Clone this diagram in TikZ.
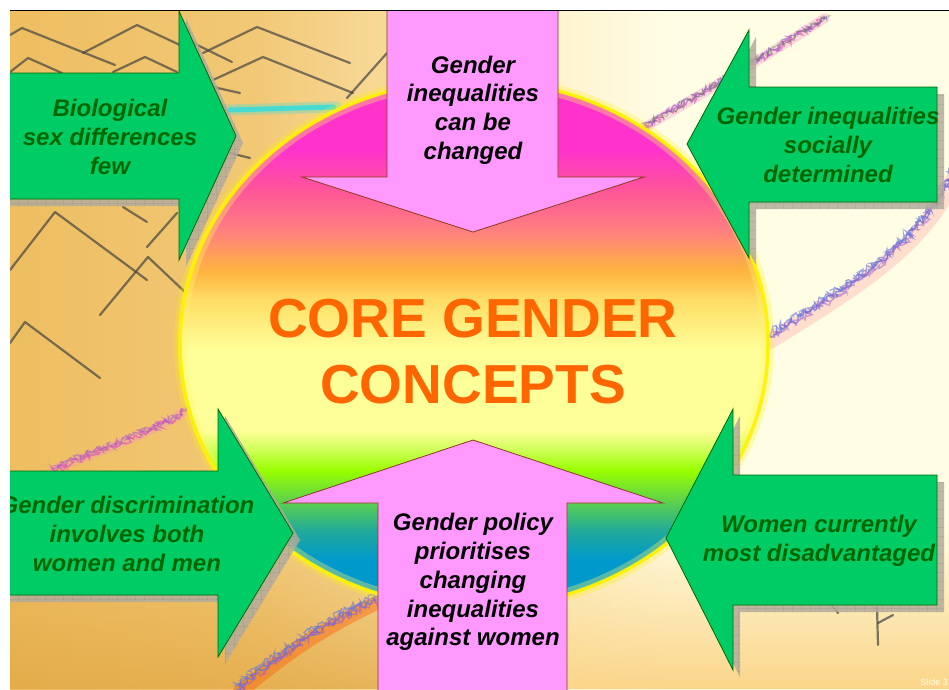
\documentclass[tikz,border=0pt]{standalone}
\usepackage{fontspec}
\setmainfont{Liberation Sans}
\usetikzlibrary{decorations.pathmorphing,fadings,patterns}

\definecolor{bgA}{HTML}{EEBE60}
\definecolor{bgB}{HTML}{F2C876}
\definecolor{bgC}{HTML}{F8DC9C}
\definecolor{bgD}{HTML}{FEF3CF}
\definecolor{bgE}{HTML}{FFFDE4}
\definecolor{bgBR}{HTML}{FBD68A}
\definecolor{bgDark}{HTML}{E0A540}
\definecolor{arrgreen}{HTML}{00CC66}
\definecolor{txtgreen}{HTML}{006600}
\definecolor{arrpink}{HTML}{FF99FF}
\definecolor{pinkedge}{HTML}{8B3A1A}
\definecolor{titleor}{HTML}{FF6600}
\definecolor{shadowgray}{HTML}{B4AC9C}
\definecolor{sketchgray}{HTML}{454545}
\definecolor{cblue}{HTML}{0099CC}
\definecolor{cteal}{HTML}{22AA99}
\definecolor{cgreenB}{HTML}{55CC55}
\definecolor{cgreen}{HTML}{99FF00}
\definecolor{cyg}{HTML}{CCFF55}
\definecolor{cpale}{HTML}{FFFF99}
\definecolor{clo}{HTML}{FFDD66}
\definecolor{corange}{HTML}{FFB340}
\definecolor{csalmon}{HTML}{FF8080}
\definecolor{cpink}{HTML}{FF5599}
\definecolor{cmag}{HTML}{FF33CC}
\definecolor{crayblue}{HTML}{6677DD}
\definecolor{crayviolet}{HTML}{9955CC}
\definecolor{craypink}{HTML}{E060B0}
\definecolor{streak}{HTML}{33DDDD}

\pgfdeclareverticalshading{coreshade}{100bp}{color(0bp)=(cblue); color(25bp)=(cblue); color(29.5bp)=(cblue); color(32.3bp)=(cteal); color(34.7bp)=(cgreenB); color(38bp)=(cgreen); color(39.9bp)=(cyg); color(41.8bp)=(cpale); color(49.4bp)=(cpale); color(54.2bp)=(clo); color(57bp)=(corange); color(60.8bp)=(csalmon); color(64.6bp)=(cpink); color(68.4bp)=(cmag); color(75bp)=(cmag); color(100bp)=(cmag)}

\pgfdeclarehorizontalshading{bgshade}{100bp}{color(0bp)=(bgA); color(25bp)=(bgA); color(38bp)=(bgB); color(46bp)=(bgC); color(54bp)=(bgD); color(60bp)=(bgE); color(100bp)=(bgE)}

\pgfdeclarepatternformonly{shadowgrid}{\pgfpointorigin}{\pgfqpoint{9pt}{9pt}}{\pgfqpoint{9pt}{9pt}}{%
  \pgfsetlinewidth{0.5pt}%
  \pgfpathmoveto{\pgfqpoint{0pt}{0pt}}\pgfpathlineto{\pgfqpoint{9pt}{0pt}}%
  \pgfpathmoveto{\pgfqpoint{0pt}{0pt}}\pgfpathlineto{\pgfqpoint{0pt}{9pt}}%
  \pgfusepath{stroke}}

\def\arrTL{(0,73) -- (179,73) -- (179,11) -- (236,136) -- (179,260) -- (179,199) -- (0,199) -- cycle}
\def\arrTR{(937,87) -- (749,87) -- (749,30) -- (687,144) -- (749,258) -- (749,202) -- (937,202) -- cycle}
\def\arrBL{(0,471) -- (218,471) -- (218,409) -- (293,533) -- (218,657) -- (218,595) -- (0,595) -- cycle}
\def\arrBR{(937,475) -- (733,475) -- (733,409) -- (666,538) -- (733,670) -- (733,605) -- (937,605) -- cycle}

\def\bandTR{(640,130) .. controls (700,95) and (760,60) .. (825,18)}
\def\bandR{(767,337) .. controls (850,285) and (920,245) .. (952,172)}
\def\bandBL{(53,470) .. controls (100,450) and (150,435) .. (187,410)}
\def\bandB{(236,690) .. controls (288,646) and (328,621) .. (378,598)}

\tikzset{
  gfill/.style={fill=arrgreen, draw=txtgreen, line width=0.8pt, line join=miter},
  pfill/.style={fill=arrpink, draw=pinkedge, line width=0.8pt, line join=miter},
  shadowfill/.style={fill=shadowgray, fill opacity=0.85},
  shadowgridstyle/.style={pattern=shadowgrid, pattern color=gray!80!black},
  sketch/.style={draw=sketchgray, line width=2.2pt, draw opacity=0.7, line cap=round, line join=round},
  crayon/.style={decorate, decoration={random steps, segment length=1.5pt, amplitude=3.5pt}, line width=1.3pt},
  halo/.style={line width=14pt, draw opacity=0.3, line cap=round},
  gtext/.style={text=txtgreen, font=\fontsize{24}{28.8}\selectfont\bfseries\itshape, align=center, inner sep=0pt},
  ptext/.style={text=black, font=\fontsize{24}{28.8}\selectfont\bfseries\itshape, align=center, inner sep=0pt},
  titletext/.style={text=titleor, font=\fontsize{55}{66}\selectfont\bfseries, align=center, inner sep=0pt},
}

\pgfmathsetseed{1234}

\begin{document}
\begin{tikzpicture}[x=1pt, y=-1pt]
\useasboundingbox (0,0) rectangle (949,689);
\fill[white] (0,0) rectangle (949,689);

\begin{scope}
\clip (10,11) rectangle (949,689);
% background photo
\shade[shading=bgshade] (10,11) rectangle (949,689);
\fill[bgBR, path fading=north] (560,520) rectangle (949,689);
\fill[bgDark, path fading=north, fill opacity=0.7] (10,540) rectangle (420,689);

% sketch lines
\draw[sketch] (10,35) -- (22,28) -- (115,65);
\draw[sketch] (83,53) -- (137,25) -- (180,45);
\draw[sketch] (10,72) -- (28,58) -- (62,73);
\draw[sketch] (113,72) -- (145,57) -- (177,72);
\draw[sketch] (203,53) -- (257,27) -- (350,63);
\draw[sketch] (187,40) -- (232,62);
\draw[sketch] (213,80) -- (263,57) -- (353,93);
\draw[sketch] (213,87) -- (240,93);
\draw[sketch] (347,98) -- (387,53);
\draw[sketch] (230,153) -- (250,158);
\draw[sketch] (10,270) -- (55,212) -- (147,280);
\draw[sketch] (123,207) -- (147,222);
\draw[sketch] (147,247) -- (177,213);
\draw[sketch] (100,315) -- (148,257) -- (185,292);
\draw[sketch] (10,343) -- (25,322) -- (100,378);
\draw[sketch] (830,603) -- (838,613);
\draw[sketch] (877,607) -- (878,645);
\draw[sketch] (878,623) -- (893,615);

% cyan streak
\draw[streak, line width=11pt, draw opacity=0.3, line cap=round] (227,110) -- (337,107);
\draw[streak, line width=5pt, draw opacity=0.85, line cap=round] (230,110) -- (334,107);

% crayon bands
\draw[halo, draw=magenta!45!white, line width=10pt] \bandTR;
\draw[crayon, draw=craypink, draw opacity=0.7] \bandTR;
\draw[crayon, draw=crayviolet, draw opacity=0.6, shift={(1,-2)}] \bandTR;
\draw[crayon, draw=green!50!black, draw opacity=0.3, line width=0.8pt, shift={(3,-3)}] \bandTR;

\draw[halo, draw=red!40!white, line width=16pt] ([shift={(3,4)}]767,337) .. controls ([shift={(3,4)}]850,285) and ([shift={(3,4)}]920,245) .. ([shift={(3,4)}]952,172);
\draw[crayon, draw=crayblue, draw opacity=0.75] \bandR;
\draw[crayon, draw=crayblue, draw opacity=0.6, shift={(0,-3)}] \bandR;
\draw[crayon, draw=crayviolet, draw opacity=0.5, shift={(1,2)}] \bandR;

\draw[halo, draw=magenta!45!white, line width=9pt] \bandBL;
\draw[crayon, draw=craypink, draw opacity=0.8] \bandBL;
\draw[crayon, draw=crayviolet, draw opacity=0.5, shift={(0,-2)}] \bandBL;

\draw[halo, draw=orange!70!red, line width=14pt, draw opacity=0.4] ([shift={(3,3)}]236,690) .. controls ([shift={(3,3)}]288,646) and ([shift={(3,3)}]328,621) .. ([shift={(3,3)}]378,598);
\draw[crayon, draw=crayblue, draw opacity=0.75] \bandB;
\draw[crayon, draw=crayblue, draw opacity=0.6, shift={(-1,-3)}] \bandB;
\draw[crayon, draw=crayviolet, draw opacity=0.5, shift={(1,2)}] \bandB;

% central ellipse
\fill[yellow, fill opacity=0.25] (474,344) ellipse [x radius=300, y radius=270];
\shade[shading=coreshade] (474,344) ellipse [x radius=293, y radius=263];
\draw[yellow!60!white, line width=9pt, draw opacity=0.35] (474,344) ellipse [x radius=292, y radius=262];
\draw[yellow, line width=3.5pt, draw opacity=0.9] (474,344) ellipse [x radius=294, y radius=264];

% green arrow shadows
\foreach \a in {\arrTL,\arrTR,\arrBL,\arrBR}{
  \fill[shadowfill, shift={(7,7)}] \a;
  \fill[shadowgridstyle, shift={(7,7)}] \a;
}
% green arrows
\path[gfill] \arrTL;
\path[gfill] \arrTR;
\path[gfill] \arrBL;
\path[gfill] \arrBR;

% pink arrows
\path[pfill] (387,0) -- (387,177) -- (302,177) -- (473,232) -- (644,177) -- (558,177) -- (558,0);
\path[pfill] (378,700) -- (378,503) -- (283,503) -- (473,440) -- (663,503) -- (567,503) -- (567,700);

% texts
\node[gtext] (bio) at (110,137) {Biological\\sex differences\\few};
\node[gtext] (soc) at (828,145) {Gender inequalities\\socially\\determined};
\node[gtext] (disc) at (127,534) {Gender discrimination\\involves both\\women and men};
\node[gtext] (wom) at (819,541) {Women currently\\most disadvantaged};
\node[ptext] (chg) at (473,110) {Gender\\inequalities\\can be\\changed};
\node[ptext] (pol) at (473,582) {Gender policy\\prioritises\\changing\\inequalities\\against women};
\node[titletext] (core) at (473,352) {CORE GENDER\\CONCEPTS};
\node[anchor=east, inner sep=0pt, text=white!92!yellow, font=\fontsize{9}{10}\selectfont] (slide) at (948,682) {Slide 3};
\end{scope}

\draw[black, line width=1pt] (10,10.5) -- (949,10.5);
\end{tikzpicture}
\end{document}
